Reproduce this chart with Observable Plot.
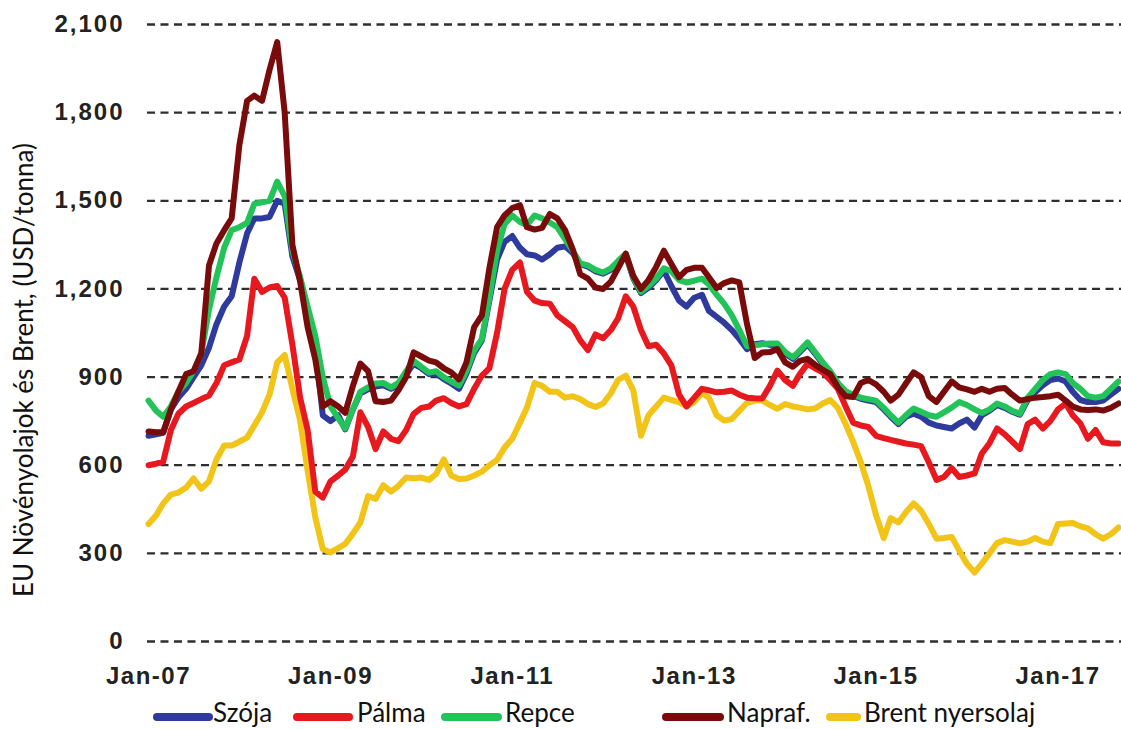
<!DOCTYPE html>
<html><head><meta charset="utf-8">
<script src="https://cdn.jsdelivr.net/npm/d3@7"></script>
<script src="https://cdn.jsdelivr.net/npm/@observablehq/plot@0.6"></script>
<style>
body{margin:0;background:#fff;}
#wrap{position:relative;width:1121px;height:729px;overflow:hidden;background:#fff;}
#legend{position:absolute;left:0;top:690px;width:1121px;height:39px;font-family:Lato,"Open Sans",sans-serif;font-size:26px;color:#111;}
.sw{position:absolute;height:8px;top:23px;border-radius:4px;}
.lt{position:absolute;top:9px;line-height:26px;white-space:nowrap;}
svg [aria-label="y-axis tick label"]{letter-spacing:2px;}
svg [aria-label="x-axis tick label"]{letter-spacing:1.5px;}
</style></head>
<body><div id="wrap"><div id="chart"></div><div id="legend"></div></div>
<script>
// Monthly values, Jan 2007 – Sep 2017 (USD/tonne)
const szoja = [
 700,705,710,790,830,860,900,940,1000,1080,1140,1175,
 1290,1389,1440,1440,1445,1500,1490,1310,1230,1120,1000,770,
 750,770,722,790,845,858,868,872,860,872,910,945,
 930,910,912,893,878,860,912,982,1025,1160,1300,1360,
 1380,1340,1318,1314,1300,1318,1340,1345,1322,1284,1276,1260,
 1252,1265,1290,1315,1236,1186,1204,1230,1262,1210,1160,1140,
 1170,1180,1125,1105,1085,1060,1030,995,1012,1015,1010,1008,
 980,962,985,1012,980,945,915,876,848,836,826,820,
 815,790,765,740,765,775,765,745,735,730,725,742,
 755,728,770,786,805,795,782,772,822,848,872,890,
 895,885,850,822,815,815,820,840,860];
const palma = [
 600,605,612,720,775,800,812,825,837,880,940,950,
 960,1040,1235,1190,1205,1210,1170,1010,830,720,510,490,
 545,565,585,630,780,730,655,715,690,682,720,775,
 795,800,820,828,812,800,808,860,905,930,1050,1200,
 1265,1290,1190,1160,1152,1150,1110,1090,1070,1025,992,1045,
 1032,1060,1100,1175,1140,1060,1005,1010,980,940,840,800,
 830,860,855,848,850,854,840,830,828,827,870,922,
 890,870,910,945,930,916,890,860,800,745,735,730,
 700,692,686,680,674,670,665,610,550,560,590,560,
 565,572,640,675,725,705,680,655,740,755,725,750,
 790,810,770,742,690,720,678,674,674];
const repce = [
 820,785,765,800,850,880,920,980,1130,1240,1340,1400,
 1410,1425,1490,1495,1500,1565,1515,1330,1240,1140,1040,900,
 800,760,725,790,850,865,878,880,865,880,920,955,
 935,915,920,900,885,871,920,990,1030,1170,1330,1420,
 1450,1428,1418,1450,1440,1426,1410,1370,1330,1287,1280,1265,
 1256,1270,1295,1320,1240,1190,1210,1235,1270,1260,1230,1222,
 1228,1235,1215,1180,1150,1110,1060,1005,1008,1012,1014,1014,
 985,967,990,1018,985,950,920,880,852,840,830,825,
 820,795,770,745,770,793,782,770,765,780,796,815,
 805,790,778,790,810,800,785,775,830,860,890,910,
 916,910,880,860,835,830,835,860,885];
const napraf = [
 715,712,712,790,850,910,920,980,1280,1355,1400,1440,
 1690,1840,1858,1840,1945,2040,1800,1350,1225,1070,960,800,
 818,800,778,870,946,920,818,815,820,855,900,984,
 970,956,950,930,916,892,950,1070,1110,1270,1410,1450,
 1475,1485,1410,1402,1408,1455,1440,1400,1335,1250,1235,1205,
 1200,1225,1270,1320,1245,1200,1230,1275,1330,1285,1240,1265,
 1272,1272,1240,1203,1220,1229,1222,1080,965,984,985,995,
 950,935,955,962,942,925,910,865,835,832,880,890,
 875,850,820,840,878,916,900,835,815,850,885,865,
 858,850,860,850,860,863,840,820,825,830,832,835,
 840,820,800,790,788,790,786,795,810];
const brent = [
 400,430,470,500,507,524,555,520,545,620,667,667,
 680,694,735,780,840,950,975,860,752,582,422,315,
 303,318,332,367,405,495,485,532,510,530,558,556,
 558,550,570,620,565,553,555,565,578,600,618,660,
 690,745,796,880,870,850,850,830,835,825,808,798,
 810,845,890,905,855,700,770,800,830,822,815,800,
 815,845,830,770,752,757,785,812,820,820,805,792,
 808,800,796,790,793,810,822,795,740,680,610,530,
 430,352,420,405,440,470,445,400,350,352,356,310,
 265,235,265,300,335,345,340,334,340,352,340,335,
 400,402,403,392,385,365,350,365,388];

const yTicks = [0, 300, 600, 900, 1200, 1500, 1800, 2100];
const xTickLabels = ["Jan-07", "Jan-09", "Jan-11", "Jan-13", "Jan-15", "Jan-17"];
const xTickYears = [2007, 2009, 2011, 2013, 2015, 2017];
const yTitle = "EU Növényolajok és Brent, (USD/tonna)";

const seriesNames = ["Szója", "Pálma", "Repce", "Napraf.", "Brent nyersolaj"];
const seriesColors = ["#2E3A9C", "#E8181F", "#22C45A", "#7A0B0B", "#F2C418"];
const seriesValues = [szoja, palma, repce, napraf, brent];
const drawOrder = [4, 1, 0, 2, 3]; // Brent, Pálma, Szója, Repce, Napraf (top)

const start = new Date(Date.UTC(2007, 0, 1));
const dates = d3.utcMonth.range(start, d3.utcMonth.offset(start, szoja.length));
const xTickDates = xTickYears.map(y => new Date(Date.UTC(y, 0, 1)));

const lineMarks = drawOrder.map(k => Plot.line(
  seriesValues[k].map((v, i) => ({date: dates[i], value: v})),
  {x: "date", y: "value", stroke: seriesColors[k], strokeWidth: 6,
   strokeLinejoin: "round", strokeLinecap: "round"}));

const chart = Plot.plot({
  width: 1121, height: 690,
  marginLeft: 148, marginRight: 3, marginTop: 24, marginBottom: 49,
  style: {fontFamily: "'Liberation Sans', Arial, sans-serif", background: "white", overflow: "visible"},
  x: {type: "utc", domain: [dates[0], dates[dates.length - 1]]},
  y: {domain: [0, 2100]},
  marks: [
    Plot.ruleY(yTicks, {stroke: "#2e2e2e", strokeWidth: 2.3, strokeDasharray: "8,5.5", insetLeft: -1, insetRight: -3}),
    ...lineMarks,
    Plot.axisY({ticks: yTicks, tickSize: 0, tickPadding: 24, tickFormat: d3.format(","),
      fontSize: 24, fontWeight: "bold", fill: "#222", label: null}),
    Plot.axisX({ticks: xTickDates, tickSize: 0, tickPadding: 25,
      tickFormat: d => xTickLabels[xTickDates.findIndex(t => +t === +d)],
      fontSize: 24, fontWeight: "bold", fill: "#222", label: null}),
    Plot.text([yTitle], {text: d => d, frameAnchor: "left", textAnchor: "middle", lineAnchor: "middle",
      rotate: -90, dx: -124, dy: 37,
      fontSize: 26, fontFamily: "Lato, 'Open Sans', sans-serif", fill: "#111"})
  ]
});
document.getElementById("chart").appendChild(chart);

// legend
const legendPos = [[153, 60, 213], [293, 60, 357], [441, 61, 505], [662, 62, 727], [826, 35, 864]];
const legend = document.getElementById("legend");
seriesNames.forEach((name, k) => {
  const [sx, sw, tx] = legendPos[k];
  const s = document.createElement("div");
  s.className = "sw"; s.style.left = sx + "px"; s.style.width = sw + "px"; s.style.background = seriesColors[k];
  legend.appendChild(s);
  const t = document.createElement("div");
  t.className = "lt"; t.style.left = tx + "px"; t.textContent = name;
  legend.appendChild(t);
});
</script></body></html>
